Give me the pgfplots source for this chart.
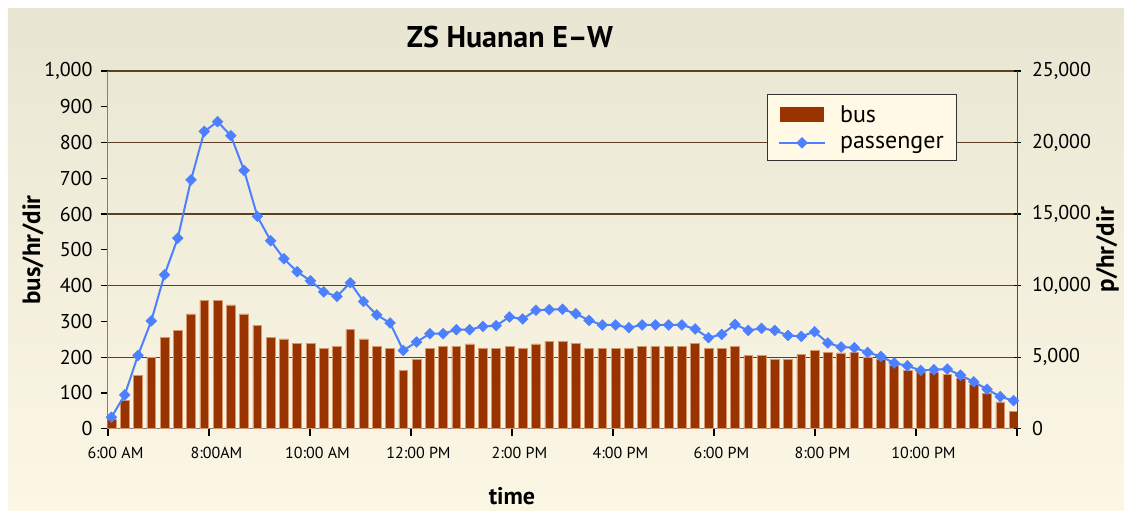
\documentclass[border=0pt]{standalone}
\usepackage{fontspec}
\setmainfont{PT Sans}
\usepackage{pgfplots}
\usepackage{pgfplotstable}
\pgfplotsset{compat=1.18}
\definecolor{bus}{RGB}{153,51,0}
\definecolor{busedge}{RGB}{214,150,110}
\definecolor{pass}{RGB}{77,128,255}
\definecolor{gridc}{RGB}{96,64,36}
\definecolor{bgtop}{RGB}{232,230,210}
\definecolor{bgbot}{RGB}{252,247,229}
\definecolor{legbg}{RGB}{255,249,230}
\definecolor{raxis}{RGB}{40,70,200}
\pgfplotsset{passlegend/.style={legend image code/.code={\draw[mark repeat=2,mark phase=2,##1] plot coordinates {(0pt,0pt)(23pt,0pt)(46pt,0pt)};}},
  buslegend/.style={legend image code/.code={\fill[bus] (1.5pt,-7pt) rectangle (44.5pt,7pt);}}}

\pgfplotstableread{
x bus pass
0 25 800
1 80 2360
2 150 5120
3 200 7530
4 256 10760
5 275 13320
6 321 17390
7 358 20780
8 358 21460
9 346 20480
10 321 18050
11 288 14840
12 256 13140
13 251 11880
14 238 10970
15 238 10340
16 225 9560
17 231 9250
18 277 10200
19 251 8890
20 231 7950
21 224 7390
22 162 5470
23 194 6060
24 224 6640
25 231 6640
26 231 6920
27 237 6920
28 224 7150
29 224 7200
30 231 7810
31 224 7670
32 237 8280
33 244 8320
34 244 8350
35 238 8040
36 224 7570
37 224 7250
38 224 7250
39 224 7060
40 231 7250
41 231 7250
42 231 7250
43 231 7250
44 238 6970
45 224 6360
46 224 6590
47 231 7290
48 206 6870
49 206 7010
50 194 6870
51 194 6520
52 207 6450
53 220 6780
54 214 5990
55 212 5710
56 214 5660
57 201 5330
58 195 5050
59 178 4590
60 164 4400
61 157 4070
62 157 4120
63 151 4170
64 141 3740
65 123 3280
66 99 2760
67 75 2240
68 48 1960
}\data

\begin{document}
\begin{tikzpicture}
\path[use as bounding box] (-108pt,-82.3pt) rectangle (1016pt,428.7pt);
\shade[top color=bgtop,bottom color=bgbot] (-100pt,-82.3pt) rectangle (1016pt,419.7pt);
\pgfplotsset{common/.style={
  scale only axis, width=909pt, height=357.7pt,
  xmin=-0.26, xmax=68.26,
  /pgf/number format/assume math mode=true,
  /pgf/number format/1000 sep={,},
  scaled y ticks=false,
  tick style={black, line width=1.3pt},
  major tick length=7pt,
}}
\begin{axis}[common,
  ymin=0, ymax=1000,
  axis x line*=bottom, axis y line*=left,
  tick align=outside,
  x axis line style={gray, line width=1pt, -},
  y axis line style={gray, line width=1pt, -},
  ytick={0,100,...,1000},
  yticklabel style={font=\fontsize{20}{20}\selectfont, xshift=-5pt},
  xtick={-0.26,7.3533,14.9667,22.58,30.1933,37.8067,45.42,53.0333,60.6467,68.26},
  xticklabels={6:00 AM,8:00AM,10:00 AM,12:00 PM,2:00 PM,4:00 PM,6:00 PM,8:00 PM,10:00 PM,{}},
  xticklabel style={font=\fontsize{16}{16}\selectfont, xshift=7.5pt, yshift=-8pt},
  extra y ticks={200,400,600,800,1000},
  extra y tick labels={},
  extra y tick style={grid=major, tick style={draw=none}, major grid style={gridc, line width=1.2pt}},
  title={ZS Huanan E–W},
  title style={font=\fontsize{30}{30}\selectfont\bfseries, at={(axis description cs:0.4422,1.0783)}, anchor=center},
  xlabel={time},
  xlabel style={font=\fontsize{24}{24}\selectfont\bfseries, at={(axis description cs:0.4444,-0.1881)}, anchor=center},
  ylabel={bus/hr/dir},
  ylabel style={font=\fontsize{25}{25}\selectfont\bfseries, at={(axis description cs:-0.0825,0.5)}, anchor=center},
]
\addplot[ybar, bar width=8.8pt, fill=bus, draw=busedge, line width=0.6pt] table[x=x,y=bus]{\data};
\end{axis}
\begin{axis}[common,
  ymin=0, ymax=25000,
  axis x line=none, xtick=\empty,
  axis y line*=right,
  tick align=center,
  y axis line style={raxis, line width=1pt, -},
  ytick={0,5000,...,25000},
  yticklabel style={font=\fontsize{20}{20}\selectfont, xshift=8pt},
  ylabel={p/hr/dir},
  ylabel style={font=\fontsize{25}{25}\selectfont\bfseries, rotate=0, at={(axis description cs:1.0995,0.5)}, anchor=center},
  legend style={at={(axis description cs:0.7246,0.9349)}, anchor=north west,
    fill=legbg, draw={rgb,255:red,50;green,50;blue,50}, line width=0.8pt,
    font=\fontsize{24}{24}\selectfont, inner xsep=11pt, inner ysep=9pt,
    nodes={inner sep=2pt}, row sep=8pt,
    /tikz/every odd column/.append style={column sep=12pt}},
  legend cell align=left,
]
\addlegendimage{buslegend}
\addlegendentry{bus}
\addplot[pass, line width=2pt, mark=square*, mark size=3.8pt,
  mark options={rotate=45, fill=pass, draw=pass, line width=0.5pt},
  passlegend] table[x=x,y=pass]{\data};
\addlegendentry{passenger\hspace{9pt}}
\end{axis}
\end{tikzpicture}
\end{document}
